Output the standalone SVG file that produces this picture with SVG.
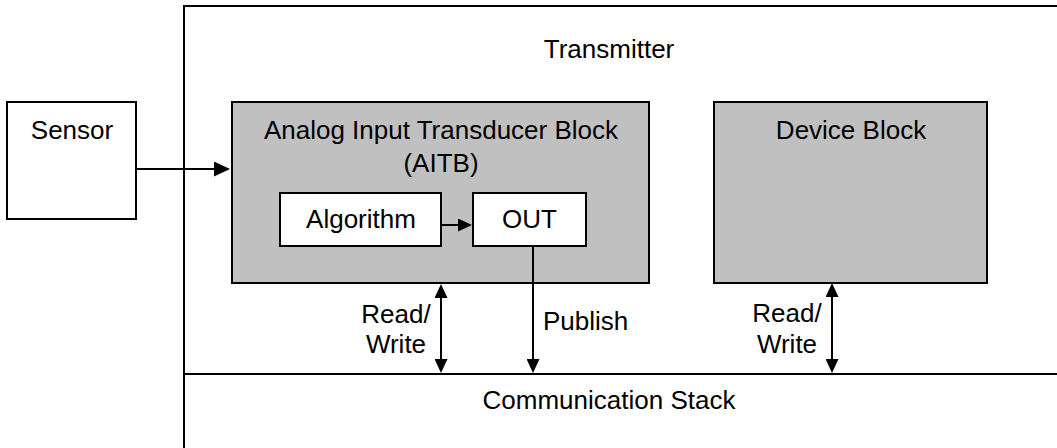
<svg xmlns="http://www.w3.org/2000/svg" width="1057" height="448" viewBox="0 0 1057 448">
<style>
.box{stroke:#000;stroke-width:2}
.white{fill:#fff}
.gray{fill:#c0c0c0}
.lbl{font-family:"Liberation Sans",Arial,sans-serif;font-size:26px;fill:#000}
.mid{text-anchor:middle}
.conn{stroke:#000;stroke-width:2;fill:none}
</style>
<defs>
<marker id="big" viewBox="0 0 16 15" refX="8" refY="7.5" markerWidth="16" markerHeight="15" markerUnits="userSpaceOnUse" orient="auto">
<path d="M0,0 L16,7.5 L0,15 z" fill="#000"/>
</marker>
<marker id="sm" viewBox="0 0 14 13" refX="7" refY="6.5" markerWidth="14" markerHeight="13" markerUnits="userSpaceOnUse" orient="auto-start-reverse">
<path d="M0,0 L14,6.5 L0,13 z" fill="#000"/>
</marker>
</defs>
<rect width="1057" height="448" fill="#fff"/>
<g id="transmitter">
<rect class="box" x="184" y="6" width="1000" height="600" fill="#fff"/>
<text class="lbl mid" x="609" y="58">Transmitter</text>
</g>
<g id="communication-stack">
<line class="conn" x1="184" y1="374" x2="1057" y2="374"/>
<text class="lbl mid" x="609" y="409">Communication Stack</text>
</g>
<g id="sensor">
<rect class="box white" x="7" y="102" width="129" height="117"/>
<text class="lbl mid" x="72" y="139">Sensor</text>
</g>
<g id="aitb">
<rect class="box gray" x="232" y="102" width="417" height="181"/>
<text class="lbl mid" x="441" y="139">Analog Input Transducer Block</text>
<text class="lbl mid" x="441" y="172">(AITB)</text>
</g>
<g id="algorithm">
<rect class="box white" x="280" y="193" width="161" height="53"/>
<text class="lbl mid" x="361" y="228">Algorithm</text>
</g>
<g id="out">
<rect class="box white" x="473" y="193" width="113" height="53"/>
<text class="lbl mid" x="529.5" y="228">OUT</text>
</g>
<g id="device-block">
<rect class="box gray" x="714" y="102" width="273" height="181"/>
<text class="lbl mid" x="851" y="139">Device Block</text>
</g>
<g id="connectors">
<line class="conn" x1="136" y1="169" x2="222" y2="169" marker-end="url(#big)"/>
<line class="conn" x1="441" y1="225" x2="465" y2="225" marker-end="url(#sm)"/>
<line class="conn" x1="441" y1="291" x2="441" y2="366" marker-start="url(#sm)" marker-end="url(#sm)"/>
<line class="conn" x1="533" y1="246" x2="533" y2="366" marker-end="url(#sm)"/>
<line class="conn" x1="832" y1="290" x2="832" y2="366" marker-start="url(#sm)" marker-end="url(#sm)"/>
<text class="lbl mid" x="396" y="323">Read/</text>
<text class="lbl mid" x="396" y="353">Write</text>
<text class="lbl" x="543" y="330">Publish</text>
<text class="lbl mid" x="787" y="322">Read/</text>
<text class="lbl mid" x="787" y="353">Write</text>
</g>
</svg>
